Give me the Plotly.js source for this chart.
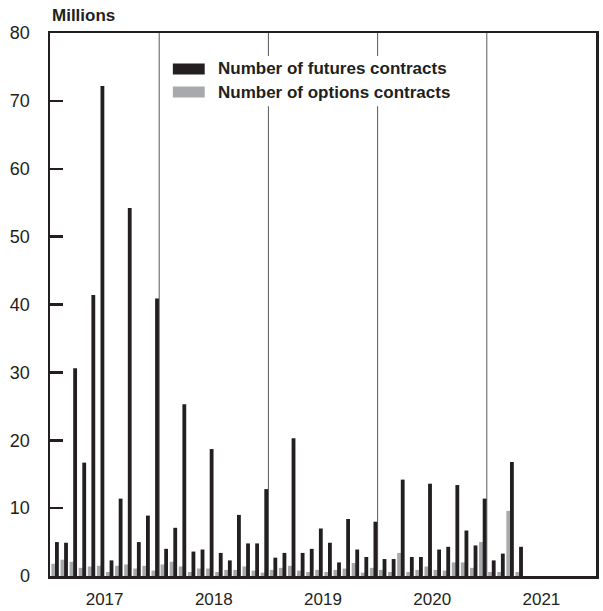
<!DOCTYPE html>
<html>
<head>
<meta charset="utf-8">
<script src="https://cdn.plot.ly/plotly-3.0.1.min.js"></script>
<style>html,body{margin:0;padding:0;background:#fff;}#chart{width:603px;height:611px;}</style>
</head>
<body>
<div id="chart"></div>
<script>
// Monthly data, Jan 2017 – Apr 2021 (millions of contracts)
const months = [
  "2017-01","2017-02","2017-03","2017-04","2017-05","2017-06","2017-07","2017-08","2017-09","2017-10","2017-11","2017-12",
  "2018-01","2018-02","2018-03","2018-04","2018-05","2018-06","2018-07","2018-08","2018-09","2018-10","2018-11","2018-12",
  "2019-01","2019-02","2019-03","2019-04","2019-05","2019-06","2019-07","2019-08","2019-09","2019-10","2019-11","2019-12",
  "2020-01","2020-02","2020-03","2020-04","2020-05","2020-06","2020-07","2020-08","2020-09","2020-10","2020-11","2020-12",
  "2021-01","2021-02","2021-03","2021-04"
];
const futures = [
  5.0, 4.9, 30.6, 16.7, 41.4, 72.2, 2.3, 11.4, 54.2, 5.0, 8.9, 40.9,
  4.0, 7.1, 25.3, 3.6, 3.9, 18.7, 3.4, 2.3, 9.0, 4.8, 4.8, 12.8,
  2.7, 3.4, 20.3, 3.4, 4.0, 7.0, 4.9, 2.0, 8.4, 3.9, 2.8, 8.0,
  2.5, 2.5, 14.2, 2.8, 2.8, 13.6, 3.9, 4.3, 13.4, 6.7, 4.5, 11.4,
  2.3, 3.3, 16.8, 4.3
];
const options = [
  1.8, 2.4, 2.1, 1.2, 1.4, 1.5, 0.6, 1.5, 1.7, 1.1, 1.5, 0.8,
  1.7, 2.1, 1.4, 0.6, 1.1, 1.1, 0.6, 0.9, 0.9, 1.4, 0.8, 0.5,
  0.9, 1.2, 1.5, 0.8, 0.6, 0.9, 0.6, 0.9, 1.1, 1.9, 0.5, 1.2,
  0.9, 0.6, 3.4, 0.6, 0.9, 1.4, 0.9, 0.8, 2.0, 2.0, 1.2, 5.0,
  0.6, 0.6, 9.6, 0.6
];
const years = ["2017","2018","2019","2020","2021"];
const seriesNames = ["Number of futures contracts", "Number of options contracts"];

const BLACK = "#231f20", GREY = "#a7a9ac", FONT = "Liberation Sans, Arial, sans-serif";
const FSIZE = 17;

// month index on a numeric axis (Jan 2017 = 0)
const startYear = 2017;
const xIdx = months.map(m => (parseInt(m.slice(0,4)) - startYear) * 12 + parseInt(m.slice(5,7)) - 1);

const traces = [
  {type: "bar", x: xIdx, y: options, name: seriesNames[1], marker: {color: GREY, line: {width: 0}},
   offset: 0.15, width: 0.5, showlegend: false, hoverinfo: "y"},
  {type: "bar", x: xIdx, y: futures, name: seriesNames[0], marker: {color: BLACK, line: {width: 0}},
   offset: 0.55, width: 0.42, showlegend: false, hoverinfo: "y"}
];

const nYears = years.length;
const shapes = [];
for (let i = 1; i < nYears; i++) {
  shapes.push({type: "line", xref: "x", yref: "paper", x0: i * 12, x1: i * 12, y0: 0, y1: 1,
               line: {color: "#58595b", width: 1}, layer: "below"});
}
// legend box (white) covering divider lines
shapes.push({type: "rect", xref: "x", yref: "y", x0: 13, x1: 46.5, y0: 69.2, y1: 76.6,
             fillcolor: "#ffffff", line: {width: 0}, layer: "below"});
// legend swatches
shapes.push({type: "rect", xref: "x", yref: "y", x0: 13.5, x1: 17.0, y0: 73.9, y1: 75.5,
             fillcolor: BLACK, line: {width: 0}, layer: "above"});
shapes.push({type: "rect", xref: "x", yref: "y", x0: 13.5, x1: 17.0, y0: 70.5, y1: 72.1,
             fillcolor: GREY, line: {width: 0}, layer: "above"});

const annotations = [
  {text: seriesNames[0], xref: "x", yref: "y", x: 18.2, y: 74.7, xanchor: "left", yanchor: "middle",
   showarrow: false, font: {family: FONT, size: FSIZE, color: BLACK, weight: "bold"}},
  {text: seriesNames[1], xref: "x", yref: "y", x: 18.2, y: 71.3, xanchor: "left", yanchor: "middle",
   showarrow: false, font: {family: FONT, size: FSIZE, color: BLACK, weight: "bold"}},
  {text: "Millions", xref: "paper", yref: "paper", x: 0, y: 1, xanchor: "left", yanchor: "bottom", yshift: 6,
   showarrow: false, font: {family: FONT, size: FSIZE, color: BLACK, weight: "bold"}}
];

const layout = {
  width: 603, height: 611,
  margin: {l: 50, r: 7, t: 33, b: 35, pad: 0},
  paper_bgcolor: "#ffffff", plot_bgcolor: "#ffffff",
  barmode: "overlay",
  font: {family: FONT, size: FSIZE, color: BLACK},
  xaxis: {
    range: [0, nYears * 12], showgrid: false, zeroline: false,
    tickmode: "array", tickvals: years.map((y, i) => i * 12 + 6), ticktext: years,
    ticks: "", ticklabelstandoff: 6,
    showline: true, linecolor: BLACK, linewidth: 2.5, mirror: true,
    tickfont: {family: FONT, size: FSIZE, color: BLACK}, fixedrange: true
  },
  yaxis: {
    range: [0, 80], dtick: 10, tick0: 0, showgrid: false, zeroline: false,
    ticks: "inside", ticklen: 13, tickwidth: 2.5, tickcolor: BLACK,
    showline: true, linecolor: BLACK, linewidth: 2.5, mirror: true,
    ticklabelstandoff: 14,
    tickfont: {family: FONT, size: FSIZE + 1, color: BLACK}, fixedrange: true
  },
  shapes: shapes,
  annotations: annotations,
  showlegend: false
};

Plotly.newPlot("chart", traces, layout, {displayModeBar: false, staticPlot: true});
</script>
</body>
</html>
